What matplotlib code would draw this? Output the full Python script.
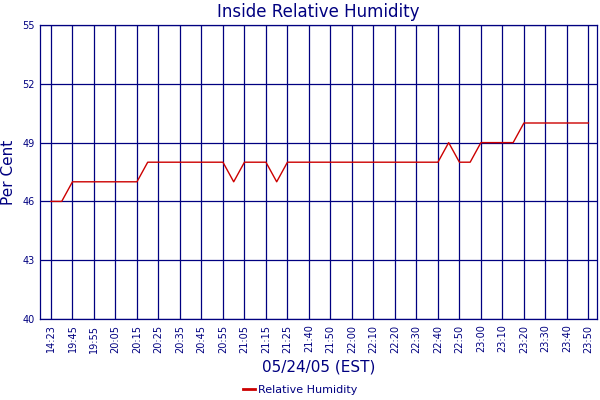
import numpy as np
import matplotlib.pyplot as plt

# Relative humidity readings, roughly every 5 minutes
humidity = [46, 46,
            47, 47, 47, 47, 47, 47, 47,
            48, 48, 48, 48, 48, 48, 48, 48,
            47,
            48, 48, 48,
            47,
            48, 48, 48, 48, 48, 48, 48, 48, 48, 48, 48, 48, 48, 48, 48,
            49,
            48, 48,
            49, 49, 49, 49,
            50, 50, 50, 50, 50, 50, 50]

tick_labels = ["14:23", "19:45", "19:55", "20:05", "20:15", "20:25", "20:35",
               "20:45", "20:55", "21:05", "21:15", "21:25", "21:40", "21:50",
               "22:00", "22:10", "22:20", "22:30", "22:40", "22:50", "23:00",
               "23:10", "23:20", "23:30", "23:40", "23:50"]

y_ticks = [40, 43, 46, 49, 52, 55]

navy = "#000080"
red = "#CC0000"

fig = plt.figure(figsize=(6, 4), dpi=100)
ax = fig.add_axes([40 / 600, 81 / 400, 557 / 600, 294 / 400])

x = np.arange(len(humidity))
ax.plot(x, humidity, color=red, linewidth=1, label="Relative Humidity")

ax.set_xlim(-1.02, 50.8)
ax.set_ylim(40, 55)
ax.set_xticks(np.arange(0, len(humidity), 2))
ax.set_xticklabels(tick_labels, rotation=90, fontsize=7, color=navy)
ax.set_yticks(y_ticks)
ax.set_yticklabels([str(v) for v in y_ticks], fontsize=7, color=navy)
ax.tick_params(length=0, pad=4)

ax.grid(True, color=navy, linewidth=0.9)
ax.set_axisbelow(True)
for s in ax.spines.values():
    s.set_color(navy)
    s.set_linewidth(0.9)

ax.set_title("Inside Relative Humidity", color=navy, fontsize=12, pad=6)
ax.set_ylabel("Per Cent", color=navy, fontsize=11, labelpad=4)
ax.set_xlabel("05/24/05 (EST)", color=navy, fontsize=11, labelpad=5)

leg = fig.legend(loc="lower center", bbox_to_anchor=(0.5, -0.012), frameon=False,
                 fontsize=8, labelcolor=navy, handlelength=1.1, handletextpad=0.3)
for h in leg.get_lines():
    h.set_linewidth(2)

plt.savefig("out.png", dpi=100)
